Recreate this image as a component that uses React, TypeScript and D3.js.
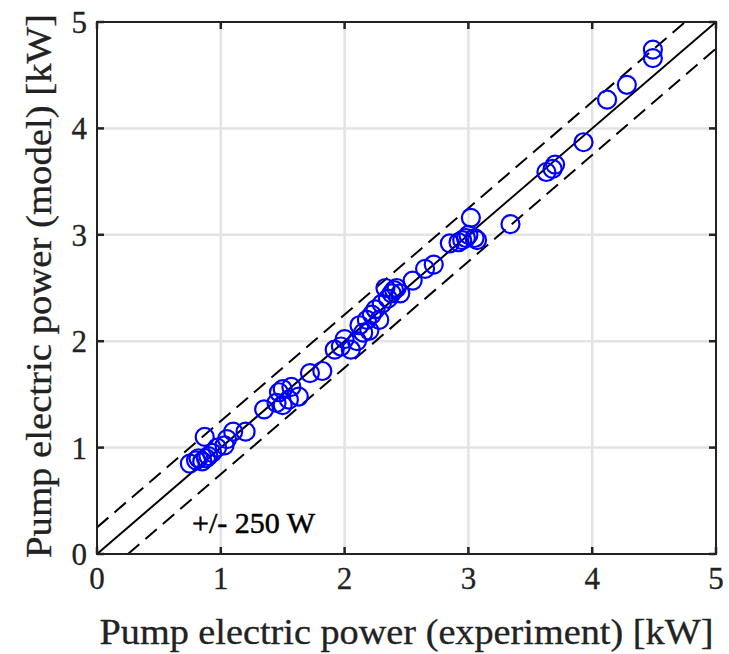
import React from "react";
import * as d3 from "d3";

const expX = [0.75, 0.8, 0.82, 0.85, 0.87, 0.88, 0.9, 0.93, 0.97, 1.03, 1.05, 1.1, 1.2, 1.35, 1.45, 1.47, 1.5, 1.5, 1.55, 1.57, 1.63, 1.72, 1.82, 1.92, 1.97, 2.0, 2.05, 2.1, 2.12, 2.15, 2.18, 2.2, 2.22, 2.25, 2.28, 2.3, 2.33, 2.35, 2.38, 2.4, 2.42, 2.45, 2.55, 2.65, 2.72, 2.85, 2.92, 2.95, 2.98, 3.0, 3.02, 3.05, 3.07, 3.34, 3.63, 3.68, 3.7, 3.93, 4.12, 4.28, 4.49, 4.49];
const modelY = [0.85, 0.88, 0.9, 0.87, 1.1, 0.9, 0.92, 0.95, 1.0, 1.02, 1.08, 1.15, 1.15, 1.36, 1.42, 1.52, 1.55, 1.4, 1.45, 1.57, 1.48, 1.7, 1.72, 1.92, 1.95, 2.02, 1.92, 2.0, 2.15, 2.08, 2.2, 2.1, 2.25, 2.3, 2.2, 2.35, 2.5, 2.4, 2.45, 2.48, 2.5, 2.45, 2.57, 2.68, 2.72, 2.92, 2.93, 2.95, 2.97, 3.0, 3.16, 2.97, 2.95, 3.1, 3.59, 3.62, 3.66, 3.87, 4.27, 4.41, 4.66, 4.74];
const ticks = [0, 1, 2, 3, 4, 5];
const band = 0.25;

export default function App() {
  const W = 729, H = 654;
  const left = 97, right = 716, top = 22, bottom = 554;
  const x = d3.scaleLinear().domain([0, 5]).range([left, right]);
  const y = d3.scaleLinear().domain([0, 5]).range([bottom, top]);
  const font = "'Liberation Serif', 'Times New Roman', serif";
  const tl = 7;
  const line = (off: number) => {
    const x0 = Math.max(0, -off), x1 = Math.min(5, 5 - off);
    return `M${x(x0)},${y(x0 + off)}L${x(x1)},${y(x1 + off)}`;
  };
  return (
    <svg width={W} height={H} style={{ position: "absolute", left: 0, top: 0, background: "#fff" }}>
      <defs>
        <clipPath id="c"><rect x={left} y={top} width={right - left} height={bottom - top} /></clipPath>
      </defs>
      {ticks.slice(1, 5).map((t) => (
        <g key={t}>
          <line x1={x(t)} x2={x(t)} y1={top} y2={bottom} stroke="#e3e3e3" strokeWidth={2.5} />
          <line x1={left} x2={right} y1={y(t)} y2={y(t)} stroke="#e3e3e3" strokeWidth={2.5} />
        </g>
      ))}
      <g clipPath="url(#c)">
        <path d={line(0)} stroke="#000" strokeWidth={2} fill="none" />
        <path d={line(band)} stroke="#000" strokeWidth={2} fill="none" strokeDasharray="15,8" />
        <path d={line(-band)} stroke="#000" strokeWidth={2} fill="none" strokeDasharray="15,8" />
      </g>
      {expX.map((v, i) => (
        <circle key={i} cx={x(v)} cy={y(modelY[i])} r={9} fill="none" stroke="#0000ff" strokeWidth={2.2} />
      ))}
      <rect x={left} y={top} width={right - left} height={bottom - top} fill="none" stroke="#222" strokeWidth={2} />
      {ticks.map((t) => (
        <g key={t}>
          <line x1={x(t)} x2={x(t)} y1={bottom} y2={bottom - tl} stroke="#222" strokeWidth={2.5} />
          <line x1={x(t)} x2={x(t)} y1={top} y2={top + tl} stroke="#222" strokeWidth={2.5} />
          <line x1={left} x2={left + tl} y1={y(t)} y2={y(t)} stroke="#222" strokeWidth={2.5} />
          <line x1={right} x2={right - tl} y1={y(t)} y2={y(t)} stroke="#222" strokeWidth={2.5} />
          <text x={x(t)} y={bottom + 35} textAnchor="middle" fontFamily={font} fontSize={31} fill="#222" stroke="#222" strokeWidth={0.3}>{t}</text>
          <text x={left - 10} y={y(t) + 11} textAnchor="end" fontFamily={font} fontSize={31} fill="#222" stroke="#222" strokeWidth={0.3}>{t}</text>
        </g>
      ))}
      <text x={192} y={533} fontFamily={font} fontSize={30} fill="#000" stroke="#000" strokeWidth={0.5}>+/- 250 W</text>
      <text x={(left + right) / 2} y={644} textAnchor="middle" fontFamily={font} fontSize={35} textLength={614} lengthAdjust="spacingAndGlyphs" fill="#222" stroke="#222" strokeWidth={0.3}>Pump electric power (experiment) [kW]</text>
      <text transform={`translate(51,${(top + bottom) / 2 - 2}) rotate(-90)`} textAnchor="middle" fontFamily={font} fontSize={35} textLength={544} lengthAdjust="spacingAndGlyphs" fill="#222" stroke="#222" strokeWidth={0.3}>Pump electric power (model) [kW]</text>
    </svg>
  );
}
